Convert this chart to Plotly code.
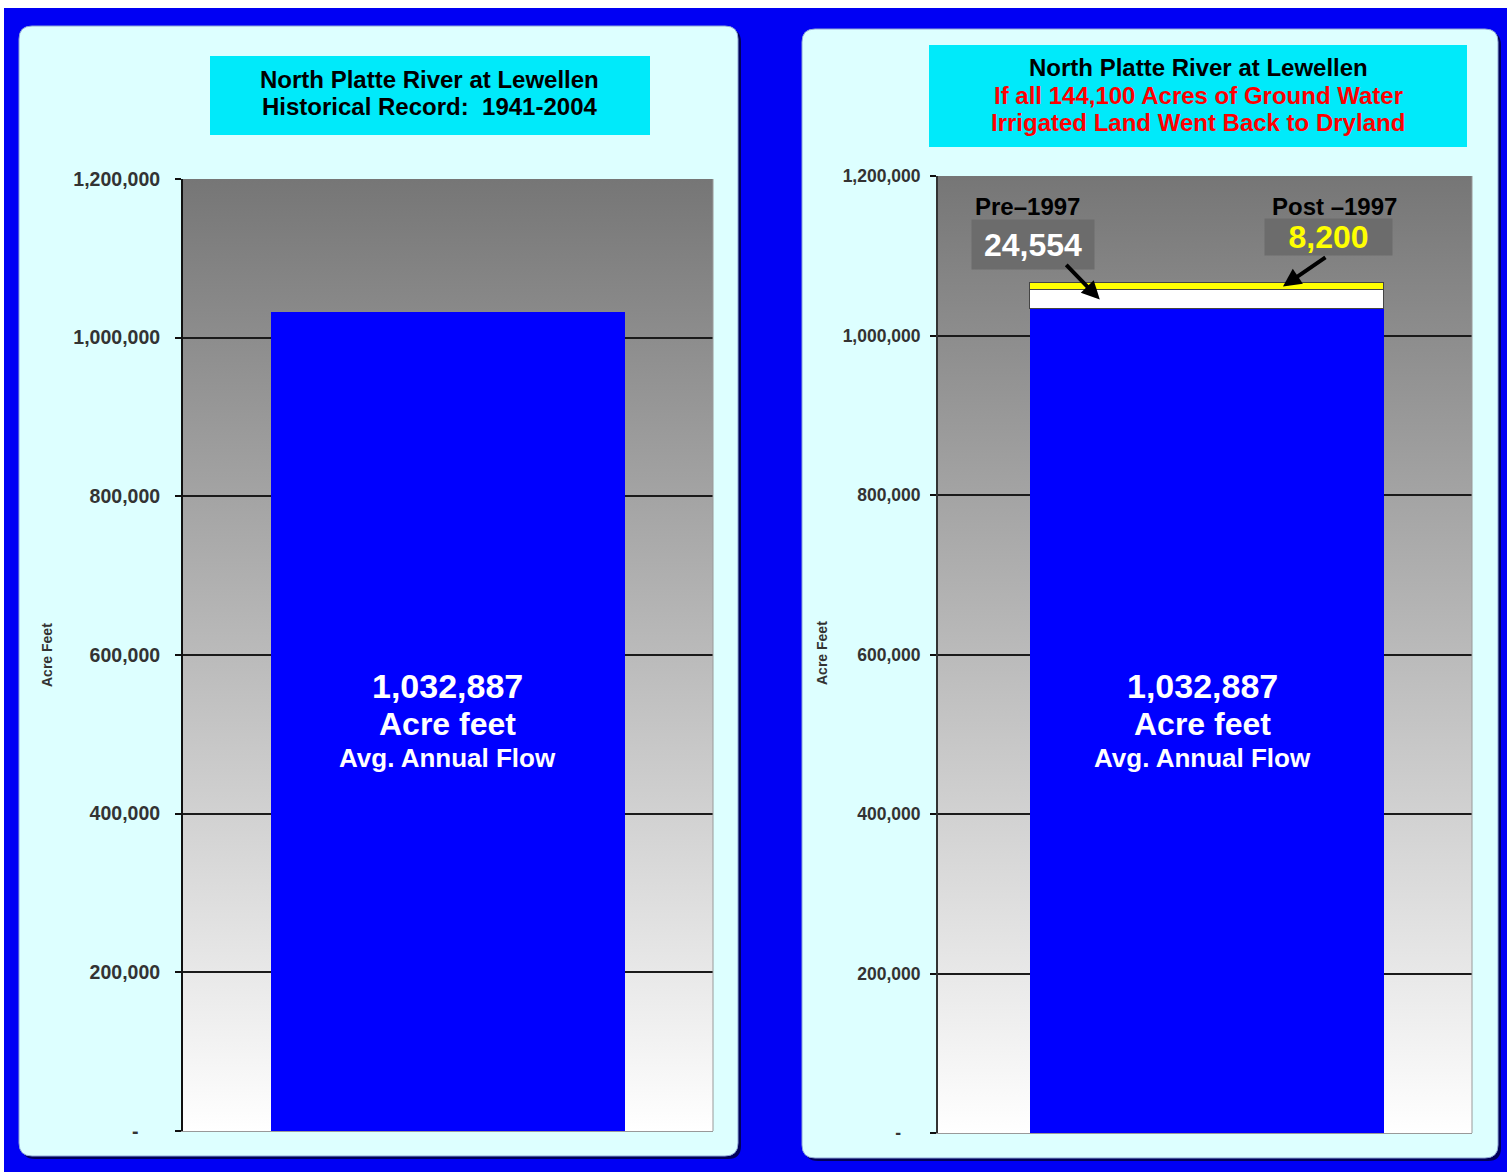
import base64
import plotly.graph_objects as go

# ---------------- data ----------------
categories_left = ["Historical Record 1941-2004"]
categories_right = ["All GW Irrigated Land Back to Dryland"]
avg_annual_flow = [1032887]
pre_1997_gain = [24554]
post_1997_gain = [8200]
tick_vals = [0, 200000, 400000, 600000, 800000, 1000000, 1200000]
tick_text_left = ["-\u00a0\u00a0\u00a0\u00a0", "200,000", "400,000", "600,000", "800,000", "1,000,000", "1,200,000"]
tick_text_right = ["-\u00a0\u00a0\u00a0\u00a0", "200,000", "400,000", "600,000", "800,000", "1,000,000", "1,200,000"]
y_max = 1200000

W, H = 1507, 1172
FONT = "Liberation Sans, Arial, sans-serif"


def px(x):
    return x / W


def py(y):
    return 1 - y / H


def rrect(x0, y0, x1, y1, r):
    X0, X1 = px(x0), px(x1)
    Yt, Yb = py(y0), py(y1)
    rx, ry = r / W, r / H
    return (f"M {X0+rx},{Yt} L {X1-rx},{Yt} Q {X1},{Yt} {X1},{Yt-ry} "
            f"L {X1},{Yb+ry} Q {X1},{Yb} {X1-rx},{Yb} L {X0+rx},{Yb} "
            f"Q {X0},{Yb} {X0},{Yb+ry} L {X0},{Yt-ry} Q {X0},{Yt} {X0+rx},{Yt} Z")


svg = ('<svg xmlns="http://www.w3.org/2000/svg" width="10" height="100" viewBox="0 0 10 100" '
       'preserveAspectRatio="none"><defs><linearGradient id="g" x1="0" y1="0" x2="0" y2="1">'
       '<stop offset="0" stop-color="#767676"/><stop offset="1" stop-color="#ffffff"/>'
       '</linearGradient></defs><rect x="0" y="0" width="10" height="100" fill="url(#g)"/></svg>')
grad_src = "data:image/svg+xml;base64," + base64.b64encode(svg.encode()).decode()

fig = go.Figure()

# left chart
fig.add_trace(go.Bar(x=categories_left, y=avg_annual_flow, width=0.668,
                     marker=dict(color="#0000ff", line=dict(width=0)),
                     xaxis="x", yaxis="y", hoverinfo="skip"))
# right chart (stacked)
RW, ROFF = 0.663, -0.3275
fig.add_trace(go.Bar(x=categories_right, y=avg_annual_flow, width=RW, offset=ROFF,
                     marker=dict(color="#0000ff", line=dict(width=0)),
                     xaxis="x2", yaxis="y2", hoverinfo="skip"))
fig.add_trace(go.Bar(x=categories_right, y=pre_1997_gain, width=RW, offset=ROFF,
                     marker=dict(color="#ffffff", line=dict(width=1, color="#444444")),
                     xaxis="x2", yaxis="y2", hoverinfo="skip"))
fig.add_trace(go.Bar(x=categories_right, y=post_1997_gain, width=RW, offset=ROFF,
                     marker=dict(color="#ffff00", line=dict(width=1, color="#444444")),
                     xaxis="x2", yaxis="y2", hoverinfo="skip"))

xax = dict(range=[-0.5, 0.5], showticklabels=False, ticks="", showgrid=False, automargin=False,
           showline=True, linecolor="#999999", linewidth=1, zeroline=False, fixedrange=True)
yax_common = dict(range=[0, y_max], tickvals=tick_vals, ticks="outside", ticklen=6, automargin=False,
                  tickwidth=1.5, tickcolor="#111111", showgrid=True, gridcolor="#1a1a1a",
                  gridwidth=1.5, zeroline=False, showline=True, fixedrange=True)

fig.update_layout(
    width=W, height=H, margin=dict(l=0, r=0, t=0, b=0, pad=0, autoexpand=False),
    paper_bgcolor="#ffffff", plot_bgcolor="rgba(0,0,0,0)",
    barmode="stack", showlegend=False, bargap=0,
    xaxis=dict(domain=[px(183), px(713)], anchor="y", **xax),
    yaxis=dict(domain=[py(1131), py(179)], anchor="x", ticktext=tick_text_left,
               linecolor="#111111", linewidth=2, ticklabelstandoff=11,
               tickfont=dict(family=FONT, size=19.5, color="#333333", weight="bold"), **yax_common),
    xaxis2=dict(domain=[px(938), px(1472)], anchor="y2", **xax),
    yaxis2=dict(domain=[py(1133), py(176)], anchor="x2", ticktext=tick_text_right,
                linecolor="#333333", linewidth=2, ticklabelstandoff=6,
                tickfont=dict(family=FONT, size=17.5, color="#333333", weight="bold"), **yax_common),
)

fig.update_layout(images=[
    dict(source=grad_src, xref="x domain", yref="y domain", x=0, y=1, sizex=1, sizey=1,
         xanchor="left", yanchor="top", sizing="stretch", layer="below"),
    dict(source=grad_src, xref="x2 domain", yref="y2 domain", x=0, y=1, sizex=1, sizey=1,
         xanchor="left", yanchor="top", sizing="stretch", layer="below"),
])

shapes = [
    # blue background
    dict(type="rect", xref="paper", yref="paper", x0=px(4), x1=1, y0=0, y1=py(8),
         fillcolor="#0000f4", line=dict(width=0), layer="below"),
    # panel shadows
    dict(type="path", xref="paper", yref="paper", path=rrect(22, 29, 741, 1159, 13),
         fillcolor="#00005a", line=dict(width=0), layer="below"),
    dict(type="path", xref="paper", yref="paper", path=rrect(805, 32, 1501, 1161, 13),
         fillcolor="#00005a", line=dict(width=0), layer="below"),
    # panels
    dict(type="path", xref="paper", yref="paper", path=rrect(19, 26, 738, 1156, 13),
         fillcolor="#ddffff", line=dict(width=1, color="#8fa6d6"), layer="below"),
    dict(type="path", xref="paper", yref="paper", path=rrect(802, 29, 1498, 1158, 13),
         fillcolor="#ddffff", line=dict(width=1, color="#8fa6d6"), layer="below"),
    # title boxes
    dict(type="rect", xref="paper", yref="paper", x0=px(210), x1=px(650), y0=py(135), y1=py(56),
         fillcolor="#00eafa", line=dict(width=0), layer="below"),
    dict(type="rect", xref="paper", yref="paper", x0=px(929), x1=px(1467), y0=py(147), y1=py(45),
         fillcolor="#00eafa", line=dict(width=0), layer="below"),
    # right plot borders (gray)
    dict(type="line", xref="x domain", yref="y domain", x0=1, x1=1, y0=0, y1=1,
         line=dict(width=1, color="#9a9a9a"), layer="above"),
    dict(type="line", xref="x2 domain", yref="y2 domain", x0=1, x1=1, y0=0, y1=1,
         line=dict(width=1, color="#9a9a9a"), layer="above"),
]
fig.update_layout(shapes=shapes)

ann = []


def text(x, y, s, size, color="#000000", bold=True, **kw):
    ann.append(dict(xref="paper", yref="paper", x=px(x), y=py(y), text=s, showarrow=False,
                    xanchor="center", yanchor="middle",
                    font=dict(family=FONT, size=size, color=color,
                              weight="bold" if bold else "normal"), **kw))


# titles
text(430, 79, "North Platte River at Lewellen", 24)
text(430, 107, "Historical Record:\u00a0 1941-2004", 24)
text(1198, 68, "North Platte River at Lewellen", 24)
text(1198, 95.5, "If all 144,100 Acres of Ground Water", 24, "#ff0000")
text(1198, 123, "Irrigated Land Went Back to Dryland", 24, "#ff0000")

# bar labels
for cx in (447, 1202):
    text(cx, 686, f"{avg_annual_flow[0]:,}", 34, "#ffffff")
    text(cx, 724, "Acre feet", 32, "#ffffff")
    text(cx, 758, "Avg. Annual Flow", 26, "#ffffff")

# axis titles
text(47, 655, "Acre Feet", 14, "#333333", textangle=-90)
text(822, 653, "Acre Feet", 14, "#333333", textangle=-90)

# right annotations
text(1027, 206, "Pre\u20131997", 24)
text(1334, 206, "Post \u20131997", 24)
text(1033, 244, f"{pre_1997_gain[0]:,}", 32, "#ffffff", bgcolor="#6c6c6c",
     width=122, height=49, borderpad=0)
text(1328, 237, f"{post_1997_gain[0]:,}", 32, "#ffff00", bgcolor="#6c6c6c",
     width=127, height=36, borderpad=0)

base = avg_annual_flow[0]
ann.append(dict(xref="x2", yref="y2", x=-0.197, y=base + pre_1997_gain[0] / 2, text="",
                showarrow=True, arrowhead=2, arrowsize=0.9, arrowwidth=4, arrowcolor="#000000",
                ax=-35, ay=-36))
ann.append(dict(xref="x2", yref="y2", x=0.146, y=base + pre_1997_gain[0] + post_1997_gain[0] / 2,
                text="", showarrow=True, arrowhead=2, arrowsize=0.9, arrowwidth=4,
                arrowcolor="#000000", ax=44, ay=-30))

fig.update_layout(annotations=ann)

fig.write_html("out.html")
